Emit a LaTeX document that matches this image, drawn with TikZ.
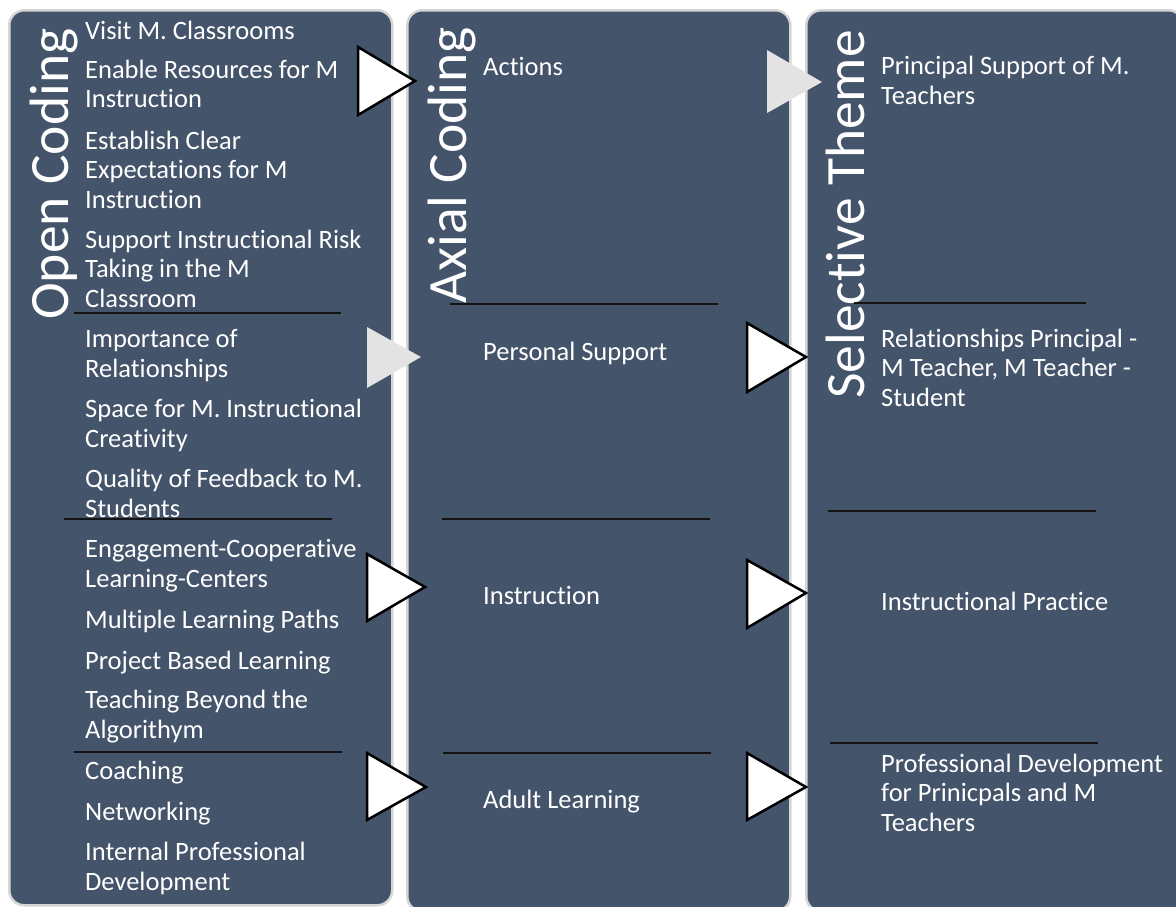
\documentclass[tikz,border=0pt]{standalone}
\usepackage{fontspec}
\setmainfont[Ligatures=NoCommon]{Carlito}
\definecolor{slate}{HTML}{44546A}
\definecolor{rim}{HTML}{D6D6D6}
\definecolor{pale}{HTML}{E3E3E3}
\begin{document}
\begin{tikzpicture}[x=1pt,y=-1pt,
  column/.style={fill=slate,draw=rim,line width=2.5pt,rounded corners=15pt,
    anchor=north west,minimum width=383pt,minimum height=901pt,inner sep=0pt},
  % multi-line items are placed by the baseline of their last line
  item/.style={anchor=base west,inner sep=0pt,text=white,align=left,
    font=\fontsize{26.5}{29.5}\selectfont},
  title/.style={anchor=base west,inner sep=0pt,text=white,rotate=90,
    font=\fontsize{55.5}{60}\selectfont},
  rule/.style={draw=black!92,line width=1.5pt},
  arrowwhite/.style={fill=white,draw=black,line width=2.5pt,line join=miter},
  arrowpale/.style={fill=pale}]
\useasboundingbox (0,0) rectangle (1176,906);
\begin{scope}
\clip (0,0) rectangle (1176,906);
% three stage panels
\node[column,minimum height=895pt] (open) at (8,9) {};
\node[column] (axial) at (406,9) {};
\node[column,minimum width=377pt] (sel) at (805,9) {};
\end{scope}

% stage titles, set vertically
\node[title] (topen) at (68,320) {Open Coding};
\node[title] (taxial) at (466,304) {Axial Coding};
\node[title] (tsel) at (864,399) {Selective Theme};

% open codes
\node[item] (o1) at (85,39) {Visit M. Classrooms};
\node[item] (o2) at (85,107.5) {Enable Resources for M\\Instruction};
\node[item] (o3) at (85,208) {Establish Clear\\Expectations for M\\Instruction};
\node[item] (o4) at (85,307) {Support Instructional Risk\\Taking in the M\\Classroom};
\node[item] (o5) at (85,377) {Importance of\\Relationships};
\node[item] (o6) at (85,447) {Space for M. Instructional\\Creativity};
\node[item] (o7) at (85,517) {Quality of Feedback to M.\\Students};
\node[item] (o8) at (85,587) {Engagement-Cooperative\\Learning-Centers};
\node[item] (o9) at (85,628) {Multiple Learning Paths};
\node[item] (o10) at (85,669) {Project Based Learning};
\node[item] (o11) at (85,738) {Teaching Beyond the\\Algorithym};
\node[item] (o12) at (85,779) {Coaching};
\node[item] (o13) at (85,820) {Networking};
\node[item] (o14) at (85,890) {Internal Professional\\Development};

% axial codes
\node[item] (a1) at (483,75) {Actions};
\node[item] (a2) at (483,360) {Personal Support};
\node[item] (a3) at (483,604) {Instruction};
\node[item] (a4) at (483,808) {Adult Learning};

% selective themes
\node[item] (s1) at (881,104) {Principal Support of M.\\Teachers};
\node[item] (s2) at (881,406) {Relationships Principal -\\M Teacher, M Teacher -\\Student};
\node[item] (s3) at (881,610) {Instructional Practice};
\node[item] (s4) at (881,831) {Professional Development\\for Prinicpals and M\\Teachers};

% group separators
\draw[rule] (74,313) -- (341,313);
\draw[rule] (64,519) -- (332,519);
\draw[rule] (74,752) -- (342,752);
\draw[rule] (450,304) -- (718,304);
\draw[rule] (442,519) -- (710,519);
\draw[rule] (443,753) -- (711,753);
\draw[rule] (854,303) -- (1086,303);
\draw[rule] (828,511) -- (1096,511);
\draw[rule] (830,743) -- (1098,743);

% flow markers between the panels
\draw[arrowwhite] (358,47) -- (415,81) -- (358,115) -- cycle;
\fill[arrowpale] (767,50) -- (822,82) -- (767,113) -- cycle;
\fill[arrowpale] (367,327) -- (421,357) -- (367,388) -- cycle;
\draw[arrowwhite] (747,323) -- (806,357) -- (747,392) -- cycle;
\draw[arrowwhite] (367,554) -- (425,587) -- (367,621) -- cycle;
\draw[arrowwhite] (747,560) -- (806,593) -- (747,628) -- cycle;
\draw[arrowwhite] (367,753) -- (426,787) -- (367,820) -- cycle;
\draw[arrowwhite] (747,753) -- (806,787) -- (747,820) -- cycle;
\end{tikzpicture}
\end{document}
